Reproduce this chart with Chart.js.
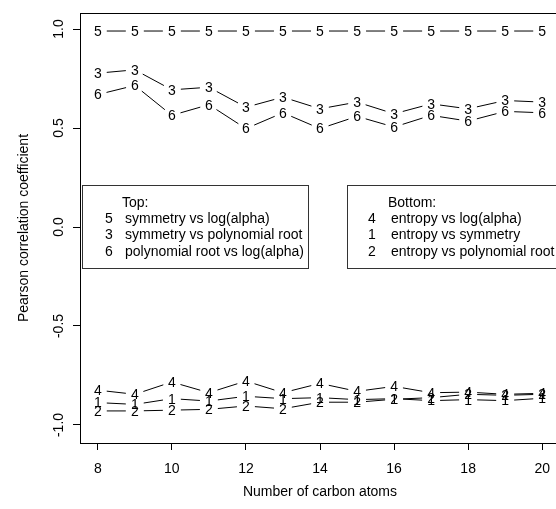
<!DOCTYPE html>
<html>
<head>
<meta charset="utf-8">
<script src="https://cdn.jsdelivr.net/npm/chart.js@4.4.0/dist/chart.umd.min.js"></script>
<style>
  html, body { margin: 0; padding: 0; background: #fff; overflow: hidden; }
  #wrap { width: 564px; height: 509px; }
</style>
</head>
<body>
<div id="wrap"><canvas id="myChart" width="564" height="509"></canvas></div>
<script>
// number of carbon atoms on the x axis
var carbons = [8, 9, 10, 11, 12, 13, 14, 15, 16, 17, 18, 19, 20];

// top group
var symLog   = [0.99, 0.99, 0.99, 0.99, 0.99, 0.99, 0.99, 0.99, 0.99, 0.99, 0.99, 0.99, 0.99];
var symPoly  = [0.777, 0.794, 0.693, 0.706, 0.605, 0.656, 0.597, 0.631, 0.572, 0.622, 0.597, 0.639, 0.631];
var polyLog  = [0.669, 0.715, 0.564, 0.618, 0.497, 0.577, 0.497, 0.559, 0.505, 0.564, 0.535, 0.584, 0.577];

// bottom group
var entLog   = [-0.824, -0.845, -0.783, -0.837, -0.778, -0.837, -0.790, -0.830, -0.805, -0.837, -0.834, -0.845, -0.840];
var entSym   = [-0.887, -0.896, -0.867, -0.879, -0.855, -0.867, -0.862, -0.872, -0.867, -0.877, -0.872, -0.877, -0.865];
var entPoly  = [-0.929, -0.929, -0.925, -0.921, -0.904, -0.918, -0.885, -0.885, -0.870, -0.862, -0.845, -0.850, -0.845];

var xTicks = [8, 10, 12, 14, 16, 18, 20];
var yTicks = [-1, -0.5, 0, 0.5, 1];
var yTickLabels = ["-1.0", "-0.5", "0.0", "0.5", "1.0"];

var topTitle = "Top:";
var topMarks = ["5", "3", "6"];
var topLabels = ["symmetry vs log(alpha)", "symmetry vs polynomial root", "polynomial root vs log(alpha)"];
var bottomTitle = "Bottom:";
var bottomMarks = ["4", "1", "2"];
var bottomLabels = ["entropy vs log(alpha)", "entropy vs symmetry", "entropy vs polynomial root"];

const FONT = '"Liberation Sans", Arial, Helvetica, sans-serif';
const GAP = 9;

Chart.defaults.font.family = FONT;
Chart.defaults.font.size = 14;
Chart.defaults.color = "#000";

function makeSet(label, mark, values) {
  return {
    label: label,
    mark: mark,
    data: values.map((v, i) => ({ x: carbons[i], y: v })),
    showLine: false,
    pointRadius: 0,
    pointHoverRadius: 0,
  };
}

// lines with gaps around the digit markers, like R type = "b"
const markPlugin = {
  id: "marks",
  afterDatasetsDraw(chart) {
    const ctx = chart.ctx;
    ctx.save();
    ctx.font = "14px " + FONT;
    ctx.fillStyle = "#000";
    ctx.strokeStyle = "#000";
    ctx.lineWidth = 1;
    ctx.textAlign = "center";
    ctx.textBaseline = "middle";
    chart.data.datasets.forEach((ds, i) => {
      const pts = chart.getDatasetMeta(i).data;
      for (let j = 0; j < pts.length - 1; j++) {
        const a = pts[j], b = pts[j + 1];
        const dx = b.x - a.x, dy = b.y - a.y;
        const len = Math.hypot(dx, dy);
        if (len <= 2 * GAP) continue;
        const ux = dx / len, uy = dy / len;
        ctx.beginPath();
        ctx.moveTo(a.x + ux * GAP, a.y + uy * GAP);
        ctx.lineTo(b.x - ux * GAP, b.y - uy * GAP);
        ctx.stroke();
      }
      pts.forEach(p => ctx.fillText(ds.mark, p.x, p.y + 1));
    });
    ctx.restore();
  }
};

// box, rotated y tick labels and the two legends
const framePlugin = {
  id: "frame",
  afterDraw(chart) {
    const ctx = chart.ctx;
    const a = chart.chartArea;
    ctx.save();
    ctx.strokeStyle = "#000";
    ctx.lineWidth = 1;
    ctx.strokeRect(Math.round(a.left) + 0.5, Math.round(a.top) + 0.5,
      Math.round(a.right - a.left), Math.round(a.bottom - a.top));

    ctx.font = "14px " + FONT;
    ctx.fillStyle = "#000";
    ctx.textAlign = "center";
    ctx.textBaseline = "middle";
    const ys = chart.scales.y;
    yTicks.forEach((v, i) => {
      ctx.save();
      ctx.translate(59, ys.getPixelForValue(v));
      ctx.rotate(-Math.PI / 2);
      ctx.fillText(yTickLabels[i], 0, 0);
      ctx.restore();
    });

    drawLegend(ctx, 82, 185, 226, 83, 109, 125, topTitle, topMarks, topLabels);
    drawLegend(ctx, 347, 185, 230, 83, 372, 391, bottomTitle, bottomMarks, bottomLabels);
    ctx.restore();
  }
};

function drawLegend(ctx, x, y, w, h, markX, textX, title, marks, labels) {
  ctx.fillStyle = "#fff";
  ctx.fillRect(x, y, w, h);
  ctx.strokeStyle = "#333";
  ctx.strokeRect(x + 0.5, y + 0.5, w, h);
  ctx.fillStyle = "#000";
  ctx.textBaseline = "middle";
  ctx.textAlign = "left";
  const row = 16.3;
  let cy = y + 18;
  ctx.fillText(title, textX - 3, cy);
  for (let i = 0; i < marks.length; i++) {
    cy += row;
    ctx.textAlign = "center";
    ctx.fillText(marks[i], markX, cy);
    ctx.textAlign = "left";
    ctx.fillText(labels[i], textX, cy);
  }
}

const config = {
  type: "scatter",
  data: {
    datasets: [
      makeSet(topLabels[0], topMarks[0], symLog),
      makeSet(topLabels[1], topMarks[1], symPoly),
      makeSet(topLabels[2], topMarks[2], polyLog),
      makeSet(bottomLabels[0], bottomMarks[0], entLog),
      makeSet(bottomLabels[1], bottomMarks[1], entSym),
      makeSet(bottomLabels[2], bottomMarks[2], entPoly),
    ],
  },
  options: {
    responsive: false,
    animation: false,
    devicePixelRatio: 1,
    layout: { padding: { top: 13, right: 4, left: 0, bottom: 0 } },
    plugins: {
      legend: { display: false },
      tooltip: { enabled: false },
    },
    scales: {
      x: {
        type: "linear",
        min: 7.52,
        max: 20.48,
        afterBuildTicks: s => { s.ticks = xTicks.map(v => ({ value: v })); },
        afterFit: s => { s.height = 66; },
        ticks: { padding: 11, maxRotation: 0, autoSkip: false, color: "#000",
          callback: v => String(v) },
        grid: { drawOnChartArea: false, tickLength: 7, color: "#000" },
        border: { display: true, color: "#000" },
        title: { display: true, text: "Number of carbon atoms", color: "#000",
          padding: { top: 0, bottom: 8 } },
      },
      y: {
        type: "linear",
        min: -1.091,
        max: 1.081,
        afterBuildTicks: s => { s.ticks = yTicks.map(v => ({ value: v })); },
        afterFit: s => { s.width = 80; },
        ticks: { display: false },
        grid: { drawOnChartArea: false, tickLength: 7, color: "#000" },
        border: { display: true, color: "#000" },
        title: { display: true, text: "Pearson correlation coefficient", color: "#000",
          padding: { top: 16, bottom: 0 } },
      },
    },
  },
  plugins: [markPlugin, framePlugin],
};

new Chart(document.getElementById("myChart"), config);
</script>
</body>
</html>
